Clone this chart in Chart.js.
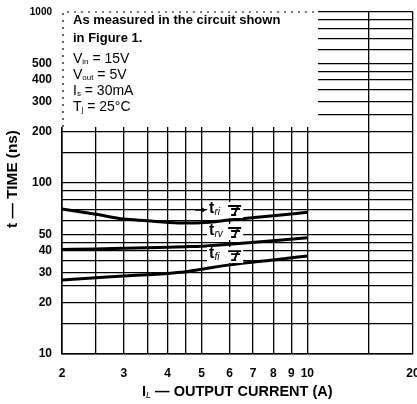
<!DOCTYPE html>
<html>
<head>
<meta charset="utf-8">
<script src="https://cdn.jsdelivr.net/npm/chart.js@4.4.0/dist/chart.umd.min.js"></script>
<style>
    html, body { margin: 0; padding: 0; background: #fff; }
    #wrap { width: 417px; height: 404px; }
</style>
</head>
<body>
<div id="wrap"><canvas id="timeChart" width="417" height="404"></canvas></div>
<script>
// grid + tick values
const xGrid = [2, 2.5, 3, 3.5, 4, 4.5, 5, 6, 7, 8, 9, 10, 15, 20];
const xLabels = [2, 3, 4, 5, 6, 7, 8, 9, 10, 20];
const yGrid = [10, 15, 20, 25, 30, 35, 40, 45, 50, 60, 70, 80, 90, 100, 150, 200,
    250, 300, 350, 400, 450, 500, 600, 700, 800, 900, 1000];
const yLabels = [10, 20, 30, 40, 50, 100, 200, 300, 400, 500, 1000];

// switching times (ns) vs output current (A)
const current = [2, 2.5, 3, 3.5, 4, 4.5, 5, 6, 8, 10];
const tRi = [70.5, 65.6, 61.5, 60.2, 58.9, 58.3, 58.6, 60.7, 64.4, 67.4];
const tRv = [40.9, 41.1, 41.5, 41.8, 42.1, 42.4, 42.7, 43.8, 46.0, 47.9];
const tFi = [27.1, 27.9, 28.6, 29.1, 29.6, 30.3, 31.3, 33.2, 35.5, 37.4];

const FONT = '"Liberation Sans", Arial, sans-serif';

function toPoints(ys) {
    return current.map((x, i) => ({ x: x, y: ys[i] }));
}

function curve(label, ys) {
    return {
        label,
        data: toPoints(ys),
        borderColor: '#000',
        borderWidth: 3,
        pointRadius: 0,
        fill: false,
        cubicInterpolationMode: 'monotone'
    };
}

// draws base text followed by a subscript, returns the x after it
function subText(ctx, x, y, base, sub, size, bold, italicSub) {
    const w = bold ? 'bold ' : '';
    ctx.font = w + size + 'px ' + FONT;
    ctx.fillText(base, x, y);
    x += ctx.measureText(base).width;
    ctx.font = (italicSub ? 'italic ' : '') + Math.round(size * 0.6) + 'px ' + FONT;
    ctx.fillText(sub, x, y + size * 0.22);
    return x + ctx.measureText(sub).width;
}

// =================
// Text box + labels
// =================
const notesPlugin = {
    id: 'notes',
    beforeDatasetsDraw(chart) {
        const ctx = chart.ctx;
        const area = chart.chartArea;
        ctx.save();
        // white box over the upper-left grid
        ctx.fillStyle = '#fff';
        ctx.fillRect(area.left - 1, area.top - 1, 318 - area.left + 1, 127 - area.top + 1);
        ctx.strokeStyle = '#000';
        ctx.lineWidth = 1.2;
        ctx.setLineDash([2, 5]);
        ctx.beginPath();
        ctx.moveTo(area.left + 1, 127);
        ctx.lineTo(area.left + 1, area.top);
        ctx.lineTo(318, area.top);
        ctx.stroke();
        ctx.setLineDash([]);

        ctx.fillStyle = '#000';
        ctx.textBaseline = 'middle';
        ctx.textAlign = 'left';
        ctx.font = 'bold 13px ' + FONT;
        ctx.fillText('As measured in the circuit shown', 73, 20, 244);
        ctx.fillText('in Figure 1.', 73, 38);

        const rows = [['V', 'in', ' = 15V', 59], ['V', 'out', ' = 5V', 75],
            ['I', 's', ' = 30mA', 91], ['T', 'j', ' = 25°C', 107]];
        rows.forEach(([b, s, rest, y]) => {
            const x = subText(ctx, 73, y, b, s, 14, false);
            ctx.font = '14px ' + FONT;
            ctx.fillText(rest, x, y);
        });
        ctx.restore();
    },
    afterDatasetsDraw(chart) {
        const ctx = chart.ctx;
        const xs = chart.scales.x;
        const ys = chart.scales.y;
        const tags = [['ri', 69.5], ['rv', 51.7], ['fi', 37.9]];
        ctx.save();
        tags.forEach(([sub, v]) => {
            const px = xs.getPixelForValue(5.25);
            const py = ys.getPixelForValue(v);
            ctx.fillStyle = '#fff';
            ctx.fillRect(px - 2, py - 8, 36, 16);
            ctx.fillStyle = '#000';
            ctx.textBaseline = 'middle';
            subText(ctx, px, py - 1, 't', sub, 16, true, true);
            // little waveform icon
            const ix = px + 19;
            ctx.strokeStyle = '#000';
            ctx.lineWidth = 1.8;
            ctx.beginPath();
            ctx.moveTo(ix, py - 4);
            ctx.lineTo(ix + 13, py - 4);
            ctx.moveTo(ix + 10, py - 4);
            ctx.lineTo(ix + 6, py + 5);
            ctx.moveTo(ix + 3, py + 5);
            ctx.lineTo(ix + 8, py + 5);
            ctx.moveTo(ix + 3, py - 1);
            ctx.lineTo(ix + 12, py - 1);
            ctx.stroke();
        });
        // small arrow in front of t_ri
        const ax = xs.getPixelForValue(5.25) - 9;
        const ay = ys.getPixelForValue(69.5);
        ctx.lineWidth = 1.4;
        ctx.beginPath();
        ctx.moveTo(ax - 5, ay);
        ctx.lineTo(ax + 3, ay);
        ctx.stroke();
        ctx.beginPath();
        ctx.moveTo(ax + 6, ay);
        ctx.lineTo(ax + 2, ay - 2.5);
        ctx.lineTo(ax + 2, ay + 2.5);
        ctx.closePath();
        ctx.fill();

        // x axis title, laid out left to right and fitted to 191px
        ctx.fillStyle = '#000';
        ctx.textBaseline = 'middle';
        ctx.textAlign = 'left';
        const rest = ' — OUTPUT CURRENT (A)';
        let size = 12.5;
        ctx.font = 'bold ' + size + 'px ' + FONT;
        let w = ctx.measureText('I' + rest).width;
        ctx.font = Math.round(size * 0.6) + 'px ' + FONT;
        w += ctx.measureText('L').width;
        size = size * 191 / w;
        let x = subText(ctx, 142, 392, 'I', 'L', size, true, true);
        ctx.font = 'bold ' + size + 'px ' + FONT;
        ctx.fillText(rest, x, 392);

        // y axis title
        const yTitle = 't — TIME (ns)';
        ctx.font = 'bold 12px ' + FONT;
        const ySize = 12 * 98 / ctx.measureText(yTitle).width;
        ctx.font = 'bold ' + ySize + 'px ' + FONT;
        ctx.translate(13, 179);
        ctx.rotate(-Math.PI / 2);
        ctx.textAlign = 'center';
        ctx.fillText(yTitle, 0, 0);
        ctx.restore();
    }
};

const ctx = document.getElementById('timeChart').getContext('2d');
new Chart(ctx, {
    type: 'line',
    data: {
        datasets: [curve('tri', tRi), curve('trv', tRv), curve('tfi', tFi)]
    },
    options: {
        responsive: false,
        animation: false,
        layout: { padding: { left: 0, right: 4, top: 12, bottom: 0 } },
        plugins: {
            legend: { display: false },
            tooltip: { enabled: false }
        },
        scales: {
            x: {
                type: 'logarithmic',
                min: 2,
                max: 20,
                afterBuildTicks: s => { s.ticks = xGrid.map(v => ({ value: v })); },
                afterFit: s => { s.height = 50; s.paddingLeft = 0; s.paddingRight = 0; },
                grid: { color: '#000', lineWidth: 1.3, drawTicks: false },
                border: { color: '#000', width: 1.6 },
                ticks: {
                    autoSkip: false,
                    maxRotation: 0,
                    padding: 12,
                    color: '#000',
                    font: { family: FONT, size: 12, weight: 'bold' },
                    callback: v => xLabels.includes(v) ? String(v) : ''
                }
            },
            y: {
                type: 'logarithmic',
                min: 10,
                max: 1000,
                afterBuildTicks: s => { s.ticks = yGrid.map(v => ({ value: v })); },
                afterFit: s => { s.width = 62; s.paddingTop = 0; s.paddingBottom = 0; },
                grid: { color: '#000', lineWidth: 1.3, drawTicks: false },
                border: { color: '#000', width: 1.6 },
                ticks: {
                    autoSkip: false,
                    padding: 10,
                    color: '#000',
                    font: c => ({ family: FONT, weight: 'bold', size: c.tick && c.tick.value === 1000 ? 10 : 12 }),
                    callback: v => yLabels.includes(v) ? String(v) : ''
                }
            }
        }
    },
    plugins: [notesPlugin]
});
</script>
</body>
</html>
